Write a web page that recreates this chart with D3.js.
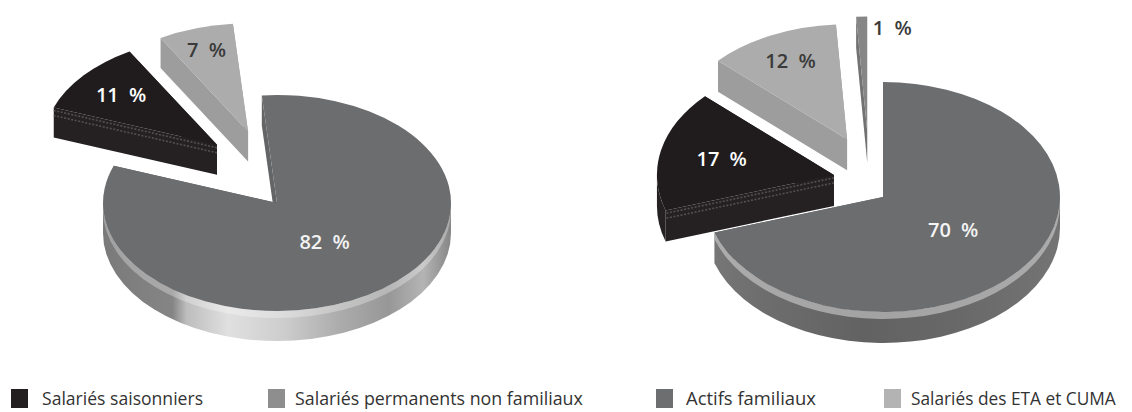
<!DOCTYPE html>
<html><head><meta charset="utf-8">
<script src="https://cdn.jsdelivr.net/npm/d3@7"></script>
<style>body{margin:0;background:#fff} svg{display:block}</style>
</head><body>
<svg id="c" width="1132" height="412"></svg>
<script>
// ---------- DATA ----------
const categories = ["Salariés saisonniers", "Salariés permanents non familiaux", "Actifs familiaux", "Salariés des ETA et CUMA"];
// clockwise order of the slices in each pie
const sliceOrder = ["Actifs familiaux", "Salariés saisonniers", "Salariés des ETA et CUMA", "Salariés permanents non familiaux"];
const valuesLeft  = [11, 0, 82, 7];   // % per category
const valuesRight = [17, 1, 70, 12];  // % per category

// ---------- STYLE ----------
const topColor   = ["#201c1d", "#868686", "#6c6d6f", "#acacac"];
const sideColor  = ["#252122", "#727272", "#646567", "#9d9d9d"];
const legendColor= ["#231f20", "#8e8e8e", "#6d6e70", "#b3b3b3"];
const labelColor = ["#ffffff", "#3a3a3a", "#f4f4f4", "#3a3a3a"];
const legendSqX  = [11, 268, 656, 884];
const legendTxX  = [42, 295, 686, 911];
const legendTxW  = [161, 288, 130, 205];

const pies = [
  {values: valuesLeft, cx: 277, cy: 203, rx: 174, ry: 108, depth: 30, rot: -5,
   explode: [0.45, 0, 0, 0.55], lift: [27, 0, 0, 15], shiftX: [0, 0, 0, 0],
   labelR: [0.72, 0.9, 0.45, 0.79], labelDx: [0, 0, 0, 0],
   wallStops: [[0, "#7a7a7a"], [0.2, "#858585"], [0.24, "#bdbdbd"], [0.36, "#e0e0e0"], [0.52, "#cdcdcd"], [0.68, "#acacac"], [0.82, "#979797"], [0.92, "#b4b4b4"], [1, "#868686"]],
   bevelColor: "#ffffff", bevelOpacity: 0.3},
  {values: valuesRight, cx: 883, cy: 197, rx: 177, ry: 115, depth: 31, rot: 0,
   explode: [0.284, 0.5, 0, 0.477], lift: [15, 8, 0, 8], shiftX: [0, -13, 0, 0],
   labelR: [0.65, 0.9, 0.49, 0.75], labelDx: [0, 30, 0, 0],
   wallStops: [[0, "#787878"], [0.15, "#6e6e6e"], [0.45, "#626262"], [0.7, "#686868"], [1, "#747474"]],
   bevelColor: "#d8d8d8", bevelOpacity: 0.55}
];

const svg = d3.select("#c");
const defs = svg.append("defs");
const deg = d => d * Math.PI / 180;
const pt = q => q[0].toFixed(2) + "," + q[1].toFixed(2);

pies.forEach((p, pi) => {
  const data = sliceOrder.map(c => {
    const idx = categories.indexOf(c);
    return {cat: c, idx, value: p.values[idx]};
  }).filter(d => d.value > 0);

  const arcs = d3.pie().sort(null).value(d => d.value)
    .startAngle(deg(p.rot)).endAngle(deg(p.rot) + 2 * Math.PI)(data);

  const sx = d3.scaleLinear().domain([0, 1]).range([0, p.rx]);
  const sy = d3.scaleLinear().domain([0, 1]).range([0, p.ry]);
  const P = (T, a, r = 1) => [T[0] + sx(r) * Math.sin(a), T[1] - sy(r) * Math.cos(a)];

  arcs.forEach(a => {
    const i = a.data.idx;
    a.mid = (a.startAngle + a.endAngle) / 2;
    const c = P([p.cx, p.cy], a.mid, p.explode[i]);
    a.T = [c[0] + p.shiftX[i], c[1] - p.lift[i]];
  });

  // wall gradient
  const gid = "wall" + pi;
  const lg = defs.append("linearGradient").attr("id", gid)
    .attr("gradientUnits", "userSpaceOnUse")
    .attr("x1", p.cx - p.rx).attr("x2", p.cx + p.rx).attr("y1", 0).attr("y2", 0);
  p.wallStops.forEach(s => lg.append("stop").attr("offset", s[0]).attr("stop-color", s[1]));

  const g = svg.append("g");
  const drawOrder = arcs.slice().sort((a, b) => a.T[1] - b.T[1]);
  const h = p.depth;

  drawOrder.forEach(a => {
    const i = a.data.idx, T = a.T;
    const big = a.data.value > 50;
    // radial side faces
    const faces = [a.startAngle, a.endAngle].map(t => ({t, e: P(T, t)}))
      .sort((f1, f2) => f1.e[1] - f2.e[1]);
    faces.forEach((f, fi) => {
      const e = f.e;
      g.append("path")
        .attr("d", `M${pt(T)}L${pt(e)}L${pt([e[0], e[1] + h])}L${pt([T[0], T[1] + h])}Z`)
        .attr("fill", sideColor[i]);
      if (i === 0 && fi === faces.length - 1) {
        // dotted bevel band of the dark slice
        [3, 8].forEach(off => {
          g.append("path")
            .attr("d", `M${pt([T[0], T[1] + off])}L${pt([e[0], e[1] + off])}`)
            .attr("stroke", "#544e4f").attr("stroke-width", 1.6)
            .attr("stroke-dasharray", "2,1.6").attr("fill", "none");
        });
      }
    });
    // outer (front) wall
    [-2 * Math.PI, 0, 2 * Math.PI].forEach(k => {
      const s = Math.max(a.startAngle, Math.PI / 2 + k);
      const e = Math.min(a.endAngle, 3 * Math.PI / 2 + k);
      if (e <= s) return;
      const ps = P(T, s), pe = P(T, e);
      const wall = hh => `M${pt(ps)}A${p.rx},${p.ry} 0 0 1 ${pt(pe)}L${pt([pe[0], pe[1] + hh])}A${p.rx},${p.ry} 0 0 0 ${pt([ps[0], ps[1] + hh])}Z`;
      g.append("path").attr("d", wall(h))
        .attr("fill", big ? `url(#${gid})` : sideColor[i]);
      if (big) {
        g.append("path").attr("d", wall(7))
          .attr("fill", p.bevelColor).attr("opacity", p.bevelOpacity);
      }
    });
    // top face
    const large = (a.endAngle - a.startAngle) > Math.PI ? 1 : 0;
    g.append("path")
      .attr("d", `M${pt(T)}L${pt(P(T, a.startAngle))}A${p.rx},${p.ry} 0 ${large} 1 ${pt(P(T, a.endAngle))}Z`)
      .attr("fill", topColor[i]);
  });

  // labels
  arcs.forEach(a => {
    const i = a.data.idx;
    const q = P(a.T, a.mid, p.labelR[i]);
    g.append("text")
      .attr("x", q[0] + p.labelDx[i]).attr("y", q[1]).attr("dy", "0.35em")
      .attr("text-anchor", "middle")
      .attr("font-family", "'Open Sans', sans-serif")
      .attr("font-size", 20).attr("font-weight", 600)
      .attr("word-spacing", 5)
      .attr("fill", labelColor[i])
      .text(a.data.value + " %");
  });
});

// legend (font size fitted so the natural text width matches the reference)
const lgd = svg.append("g");
categories.forEach((c, i) => {
  lgd.append("rect").attr("x", legendSqX[i]).attr("y", 389).attr("width", 17).attr("height", 19)
    .attr("fill", legendColor[i]);
  const t = lgd.append("text").attr("x", legendTxX[i]).attr("y", 405)
    .attr("font-family", "'Open Sans', sans-serif").attr("font-size", 19)
    .attr("fill", "#333333")
    .text(c);
  const w = t.node().getComputedTextLength();
  if (w > legendTxW[i]) t.attr("font-size", (19 * legendTxW[i] / w).toFixed(2));
});
</script>
</body></html>
